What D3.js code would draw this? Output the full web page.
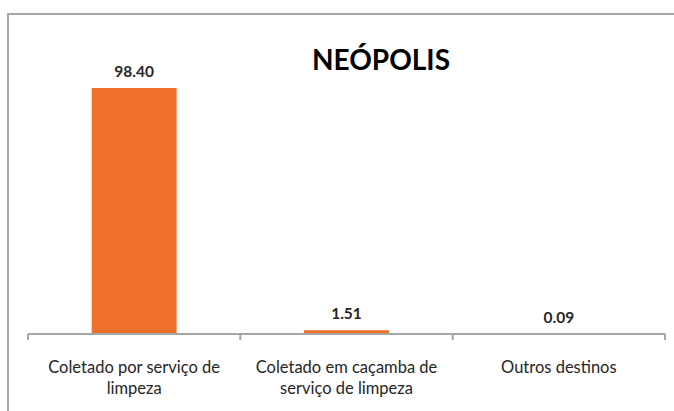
<!DOCTYPE html>
<html>
<head>
    <script src="https://cdnjs.cloudflare.com/ajax/libs/d3/7.8.5/d3.min.js"></script>
    <style>
        body { margin: 0; background: #fff; }
        text { font-family: Lato, "Open Sans", sans-serif; fill: #262626; }
        .title { font-size: 28px; font-weight: bold; fill: #000; }
        .value { font-size: 15.5px; font-weight: bold; }
        .cat { font-size: 16.5px; }
    </style>
</head>
<body>
    <div id="chart"></div>
    <script>
        const width = 674, height = 411;

        const categories = [
            ["Coletado por serviço de", "limpeza"],
            ["Coletado em caçamba de", "serviço de limpeza"],
            ["Outros destinos"]
        ];
        const values = [98.40, 1.51, 0.09];
        const title = "NEÓPOLIS";

        const svg = d3.select("#chart").append("svg")
            .attr("width", width).attr("height", height);

        // outer frame (right and bottom edges fall outside the picture)
        svg.append("rect")
            .attr("x", 8).attr("y", 14)
            .attr("width", 700).attr("height", 420)
            .attr("fill", "none")
            .attr("stroke", "#a6a6a6")
            .attr("stroke-width", 2);

        const x = d3.scaleBand()
            .domain(d3.range(values.length))
            .range([28, 665])
            .paddingInner(0.6)
            .paddingOuter(0.3);

        const y = d3.scaleLinear()
            .domain([0, 120])
            .range([334, 34]);

        svg.selectAll(".bar")
            .data(values)
            .enter().append("rect")
            .attr("class", "bar")
            .attr("x", (d, i) => x(i))
            .attr("y", d => y(d))
            .attr("width", x.bandwidth())
            .attr("height", d => y(0) - y(d))
            .attr("fill", "#f07029");

        // category axis: baseline + ticks between categories
        const step = (665 - 28) / values.length;
        const g = svg.append("g").attr("stroke", "#a6a6a6").attr("stroke-width", 2);
        g.append("line")
            .attr("x1", 28).attr("x2", 665)
            .attr("y1", y(0)).attr("y2", y(0));
        g.selectAll(".tick")
            .data(d3.range(values.length + 1))
            .enter().append("line")
            .attr("x1", i => 28 + i * step).attr("x2", i => 28 + i * step)
            .attr("y1", y(0)).attr("y2", y(0) + 6);

        svg.selectAll(".value")
            .data(values)
            .enter().append("text")
            .attr("class", "value")
            .attr("text-anchor", "middle")
            .attr("x", (d, i) => x(i) + x.bandwidth() / 2)
            .attr("y", d => y(d) - 11)
            .text(d => d.toFixed(2));

        const cat = svg.selectAll(".cat")
            .data(categories)
            .enter().append("text")
            .attr("class", "cat")
            .attr("text-anchor", "middle")
            .attr("x", (d, i) => x(i) + x.bandwidth() / 2)
            .attr("y", 373);
        cat.selectAll("tspan")
            .data(d => d)
            .enter().append("tspan")
            .attr("x", function () { return this.parentNode.getAttribute("x"); })
            .attr("dy", (d, i) => i === 0 ? 0 : 21)
            .text(d => d);

        svg.append("text")
            .attr("class", "title")
            .attr("text-anchor", "middle")
            .attr("x", 381)
            .attr("y", 70)
            .text(title);
    </script>
</body>
</html>
